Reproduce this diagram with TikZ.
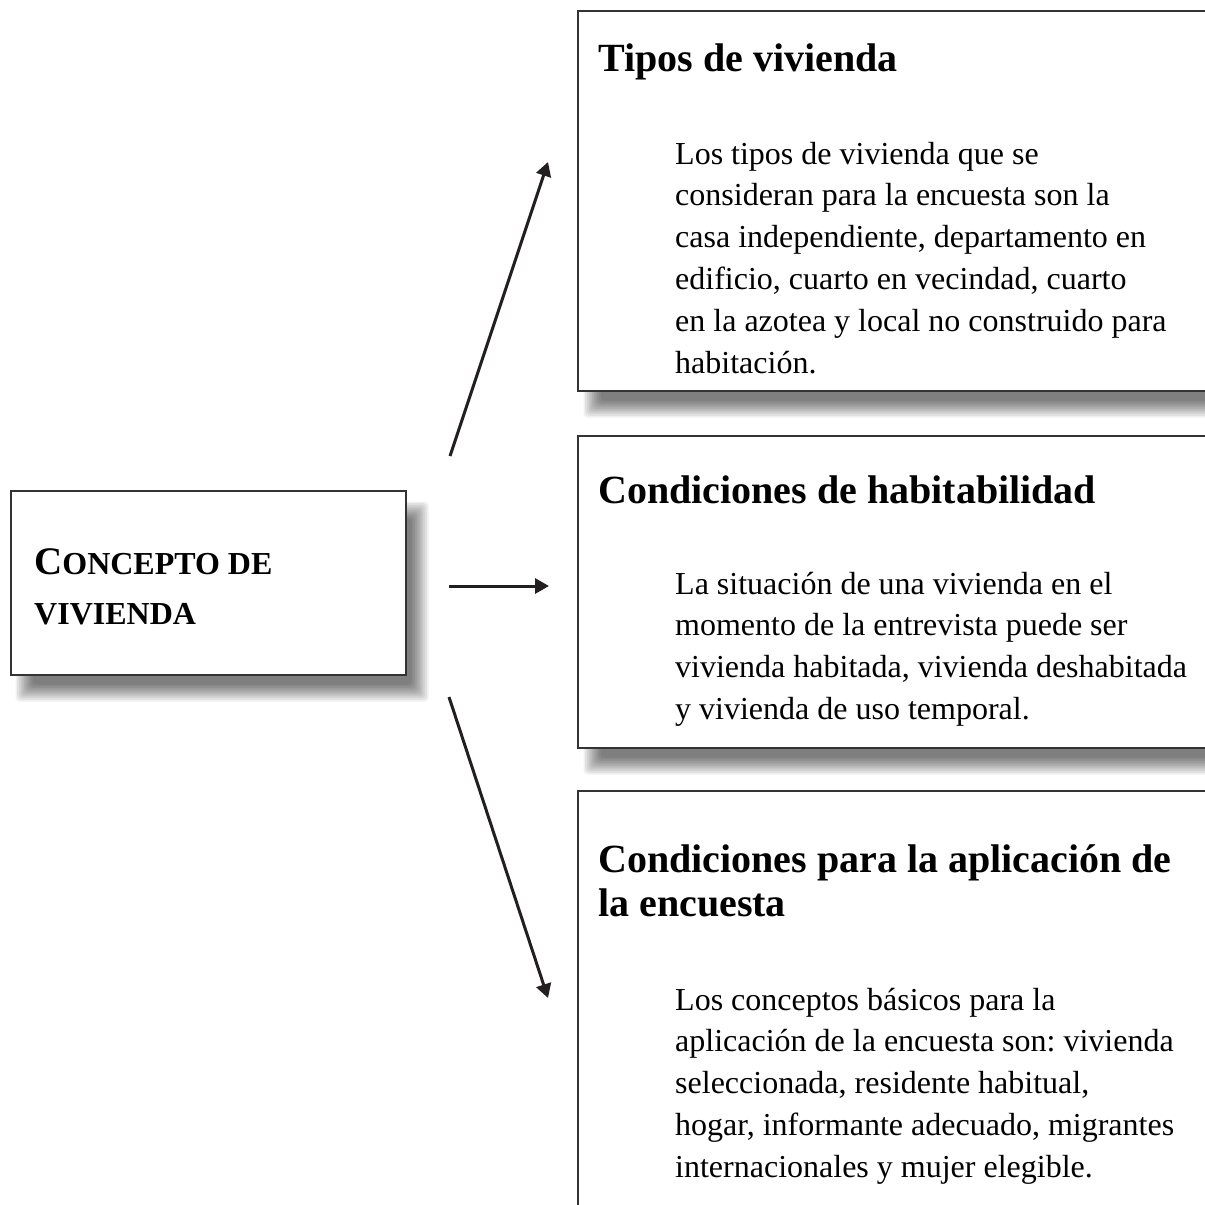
\documentclass[tikz,border=0pt]{standalone}
\usepackage{fontspec}
\setmainfont{Liberation Serif}
\usetikzlibrary{arrows.meta}
\frenchspacing
\definecolor{ink}{HTML}{231F20}
\definecolor{frame}{HTML}{333333}
\tikzset{
  conn/.style={draw=ink, line width=3pt, -{Triangle[length=14pt,width=15pt]}},
  boxframe/.style={draw=frame, line width=1.4pt, fill=white},
  ttl/.style={anchor=base west, inner sep=0pt, font=\fontsize{40}{44}\selectfont\bfseries},
  bdy/.style={anchor=base west, inner sep=0pt, font=\fontsize{32}{41.8}\selectfont},
  sclabel/.style={anchor=base west, inner sep=0pt, font=\bfseries},
}
\newcommand{\softshadow}[4]{%
  \foreach \r in {-5,...,5}{%
    \fill[black, opacity=0.057, rounded corners=4pt]
      ({#1-\r*1.7},{#2-\r*1.7}) rectangle ({#3+\r*1.7},{#4+\r*1.7});
  }%
}
\newcommand{\blocklines}[1]{\begin{tabular}[t]{@{}l@{}}#1\end{tabular}}
\begin{document}
\begin{tikzpicture}[x=1pt,y=-1pt]
\clip (0,0) rectangle (1205,1205);
\fill[white] (0,0) rectangle (1205,1205);

% shadows
\softshadow{24}{510}{420}{693}
\softshadow{592}{30}{1230}{409}
\softshadow{592}{455}{1230}{766}

% boxes
\draw[boxframe] (11,491) rectangle (406,675);
\draw[boxframe] (578,11) rectangle (1220,391);
\draw[boxframe] (578,436) rectangle (1220,748);
\draw[boxframe] (578,791) rectangle (1220,1230);

% left box text
\node[sclabel] (c1) at (34,574)
  {{\fontsize{39}{40}\selectfont C}{\fontsize{32}{40}\selectfont ONCEPTO DE}};
\node[sclabel] (c2) at (34,624)
  {\fontsize{32}{40}\selectfont VIVIENDA};

% box 1
\node[ttl] (t1) at (598,71) {Tipos de vivienda};
\node[bdy] (b1) at (675,164) {\blocklines{Los tipos de vivienda que se\\consideran para la encuesta son la\\casa independiente, departamento en\\edificio, cuarto en vecindad, cuarto\\en la azotea y local no construido para\\habitación.}};

% box 2
\node[ttl] (t2) at (598,503) {Condiciones de habitabilidad};
\node[bdy] (b2) at (675,594) {\blocklines{La situación de una vivienda en el\\momento de la entrevista puede ser\\vivienda habitada, vivienda deshabitada\\y vivienda de uso temporal.}};

% box 3
\node[ttl] (t3) at (598,872) {\blocklines{Condiciones para la aplicación de\\la encuesta}};
\node[bdy] (b3) at (675,1010) {\blocklines{Los conceptos básicos para la\\aplicación de la encuesta son: vivienda\\seleccionada, residente habitual,\\hogar, informante adecuado, migrantes\\internacionales y mujer elegible.}};

% connectors
\coordinate (s1) at (450,456);
\coordinate (e1) at (548,162);
\coordinate (s2) at (449,586);
\coordinate (e2) at (549,586);
\coordinate (s3) at (449,697);
\coordinate (e3) at (548,998);
\draw[conn] (s1) -- (e1);
\draw[conn] (s2) -- (e2);
\draw[conn] (s3) -- (e3);
\end{tikzpicture}
\end{document}
